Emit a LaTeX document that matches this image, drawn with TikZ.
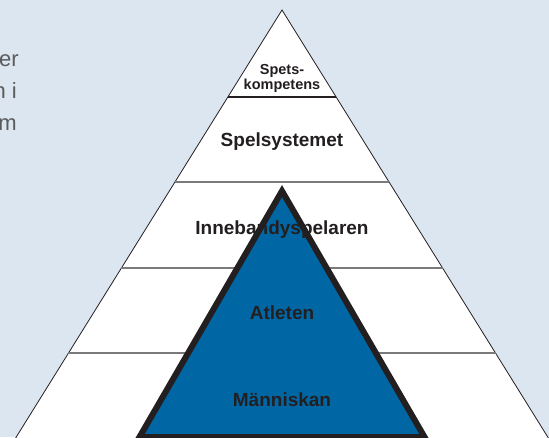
\documentclass[tikz,border=0pt]{standalone}
\usepackage{fontspec}
\setmainfont{Liberation Sans}
\definecolor{bgblue}{HTML}{DCE6F1}
\definecolor{inkdark}{HTML}{231F20}
\definecolor{triblue}{HTML}{0066A4}
\definecolor{levelgray}{HTML}{7A7A7A}
\definecolor{sidegray}{HTML}{5A5B5D}
\tikzset{
  levellabel/.style={font=\fontsize{19}{21}\selectfont\bfseries, text=inkdark, inner sep=0pt, anchor=base},
  toplabel/.style={font=\fontsize{14.5}{16}\selectfont\bfseries, text=inkdark, inner sep=0pt, anchor=base},
  sidetext/.style={font=\fontsize{22}{26}\selectfont, text=sidegray, inner sep=0pt, anchor=base east},
  levelline/.style={draw=levelgray, line width=1.3pt},
}
\begin{document}
\begin{tikzpicture}[x=1pt, y=-1pt]
\useasboundingbox (0,0) rectangle (549,437);
\clip (0,0) rectangle (549,437);
\fill[bgblue] (0,0) rectangle (549,437);
% outer pyramid
\coordinate (apex) at (282,10);
\coordinate (bl) at (15,439);
\coordinate (br) at (549,439);
\filldraw[fill=white, draw=inkdark, line width=0.8pt] (apex) -- (bl) -- (br) -- cycle;
% level lines
\foreach \y/\c in {97/inkdark, 182/levelgray, 268/levelgray, 353/levelgray} {
  \pgfmathsetmacro{\hw}{0.6235*(\y-10)}
  \draw[levelline, draw=\c] ({282-\hw},\y) -- ({282+\hw},\y);
}
% inner triangle
\coordinate (iapex) at (282,191);
\coordinate (ibl) at (139.5,437);
\coordinate (ibr) at (424.5,437);
\filldraw[fill=triblue, draw=inkdark, line width=6pt, line join=miter] (iapex) -- (ibl) -- (ibr) -- cycle;
% labels
\node[toplabel] (spets) at (282,74) {Spets-};
\node[toplabel] (komp) at (282,89.5) {kompetens};
\node[levellabel] (spel) at (282,146) {Spelsystemet};
\node[levellabel] (inne) at (282,234) {Innebandyspelaren};
\node[levellabel] (atl) at (282,319) {Atleten};
\node[levellabel] (man) at (282,406) {Människan};
% cut-off side text
\node[sidetext] (s1) at (19,66) {er};
\node[sidetext] (s2) at (17,98) {n i};
\node[sidetext] (s3) at (17,130) {m};
\end{tikzpicture}
\end{document}
